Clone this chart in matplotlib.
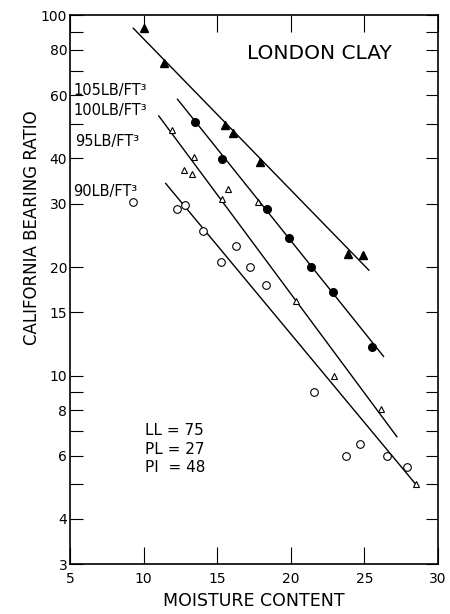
import numpy as np
import matplotlib
matplotlib.use('Agg')
import matplotlib.pyplot as plt
from matplotlib.ticker import FixedLocator, FixedFormatter, NullFormatter

# 105 lb/ft3 - filled triangles
x105 = [10.0, 11.4, 15.5, 16.1, 17.9, 23.9, 24.9]
y105 = [92, 73.5, 49.5, 47.2, 39.2, 21.7, 21.6]
# 100 lb/ft3 - filled circles
x100 = [13.5, 15.35, 18.4, 19.9, 21.4, 22.85, 25.5]
y100 = [50.5, 39.8, 28.9, 24.0, 20.0, 17.1, 12.0]
# 95 lb/ft3 - open triangles
x95 = [11.9, 13.45, 12.75, 13.3, 15.75, 15.35, 17.8, 20.35, 22.9, 26.1, 28.5]
y95 = [48, 40.5, 37.2, 36.2, 33.0, 30.9, 30.2, 16.1, 10.0, 8.06, 5.0]
# 90 lb/ft3 - open circles
x90 = [9.3, 12.3, 12.8, 14.06, 16.3, 15.26, 17.2, 18.3, 21.6, 23.73, 24.7, 26.5, 27.87]
y90 = [30.2, 28.9, 29.8, 25.2, 22.9, 20.7, 20.0, 17.8, 9.0, 5.99, 6.45, 6.0, 5.58]

# fitted lines (start, end)
fit105_x = [9.3, 25.3]
fit105_y = [91.9, 19.6]
fit100_x = [12.3, 26.3]
fit100_y = [58.4, 11.3]
fit95_x = [11.03, 27.2]
fit95_y = [52.5, 6.77]
fit90_x = [11.5, 28.44]
fit90_y = [34.1, 5.02]

yticks_major = [3, 4, 6, 8, 10, 15, 20, 30, 40, 60, 80, 100]
yticks_minor = [5, 7, 9, 50, 70, 90]
xticks = [5, 10, 15, 20, 25, 30]

fig = plt.figure(figsize=(4.5, 6.14), dpi=100)
ax = fig.add_axes([0.1556, 0.0814, 0.8178, 0.8941])
ax.set_yscale('log')
ax.set_xlim(5, 30)
ax.set_ylim(3, 100)

lw = 1.0
ax.plot(fit105_x, fit105_y, 'k-', lw=lw)
ax.plot(fit100_x, fit100_y, 'k-', lw=lw)
ax.plot(fit95_x, fit95_y, 'k-', lw=lw)
ax.plot(fit90_x, fit90_y, 'k-', lw=lw)

ax.plot(x105, y105, '^', color='k', ms=5.5, ls='none')
ax.plot(x100, y100, 'o', color='k', ms=5.5, ls='none')
ax.plot(x95, y95, '^', mfc='white', mec='k', mew=0.8, ms=4.5, ls='none')
ax.plot(x90, y90, 'o', mfc='white', mec='k', mew=0.8, ms=5.5, ls='none')

ax.yaxis.set_major_locator(FixedLocator(yticks_major))
ax.yaxis.set_major_formatter(FixedFormatter([str(v) for v in yticks_major]))
ax.yaxis.set_minor_locator(FixedLocator(yticks_minor))
ax.yaxis.set_minor_formatter(NullFormatter())
ax.xaxis.set_major_locator(FixedLocator(xticks))
ax.xaxis.set_minor_locator(FixedLocator([]))

ax.tick_params(axis='y', which='both', direction='in', length=9, width=0.8,
               right=True, labelsize=10, pad=2)
ax.tick_params(axis='x', which='both', direction='in', length=12, width=0.8,
               top=True, labelsize=10, pad=6)
for s in ax.spines.values():
    s.set_linewidth(1.2)

ax.set_xlabel('MOISTURE CONTENT', fontsize=12.5, labelpad=4)
ax.set_ylabel('CALIFORNIA BEARING RATIO', fontsize=12)
ax.yaxis.set_label_coords(-0.08, 0.612)

ax.text(0.677, 0.93, 'LONDON CLAY', transform=ax.transAxes, fontsize=14.5,
        ha='center', va='center')
lab_kw = dict(transform=ax.transAxes, fontsize=10.5, ha='left', va='center')
ax.text(0.008, 0.862, '105LB/FT³', **lab_kw)
ax.text(0.008, 0.826, '100LB/FT³', **lab_kw)
ax.text(0.015, 0.770, '95LB/FT³', **lab_kw)
ax.text(0.008, 0.678, '90LB/FT³', **lab_kw)

ax.text(0.205, 0.2095, 'LL = 75\nPL = 27\nPI  = 48', transform=ax.transAxes,
        fontsize=11, ha='left', va='center', linespacing=1.3)

fig.savefig('out.png', dpi=100)
